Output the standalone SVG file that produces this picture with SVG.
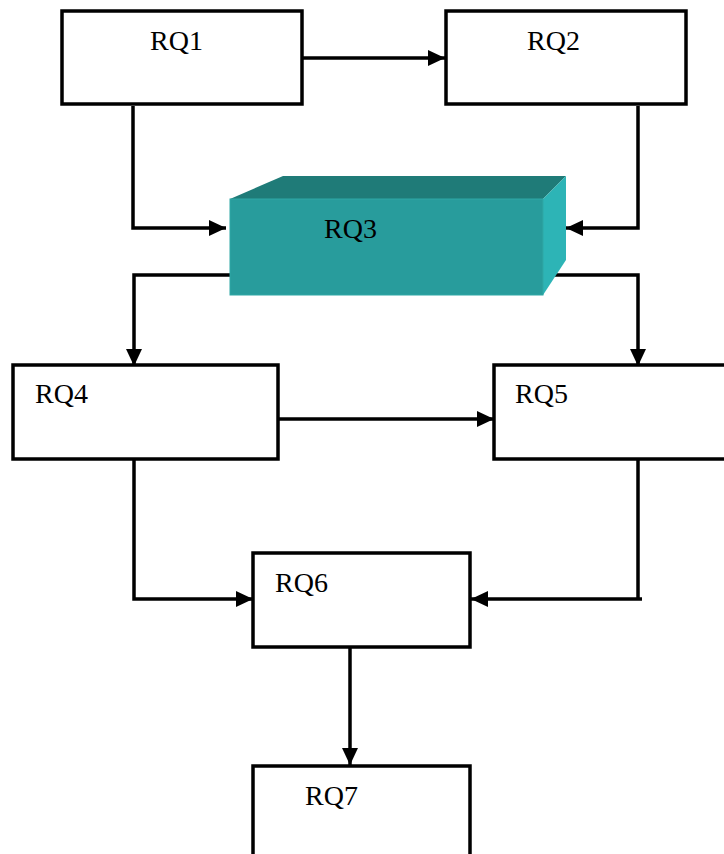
<svg xmlns="http://www.w3.org/2000/svg" width="724" height="854" viewBox="0 0 724 854">
<style>
.box{fill:#fff;stroke:#000;stroke-width:3.5}
.lbl{font-family:"Liberation Serif","Times New Roman",serif;font-size:28px;fill:#000}
.conn{fill:none;stroke:#000;stroke-width:3.5;stroke-linejoin:miter}
</style>
<defs>
<marker id="ah" markerUnits="userSpaceOnUse" markerWidth="17" markerHeight="16" viewBox="0 0 17 16" refX="17" refY="8" orient="auto">
<path d="M0,0 L17,8 L0,16 Z" fill="#000"/>
</marker>
</defs>
<rect width="724" height="854" fill="#fff"/>
<g id="connectors">
<path class="conn" d="M303,58 H445" marker-end="url(#ah)"/>
<path class="conn" d="M133,106 V228 H226" marker-end="url(#ah)"/>
<path class="conn" d="M638,106 V228 H566" marker-end="url(#ah)"/>
<path class="conn" d="M230,275 H134 V366" marker-end="url(#ah)"/>
<path class="conn" d="M543,275 H638 V366" marker-end="url(#ah)"/>
<path class="conn" d="M278,419 H494" marker-end="url(#ah)"/>
<path class="conn" d="M134,459 V599 H253" marker-end="url(#ah)"/>
<path class="conn" d="M642,599 H471" marker-end="url(#ah)"/>
<path class="conn" d="M638,459 V599"/>
<path class="conn" d="M350,647 V765" marker-end="url(#ah)"/>
</g>
<g id="RQ1">
<rect class="box" x="62" y="11" width="240" height="93"/>
<text class="lbl" x="150" y="50">RQ1</text>
</g>
<g id="RQ2">
<rect class="box" x="446" y="11" width="240" height="93"/>
<text class="lbl" x="527" y="50">RQ2</text>
</g>
<g id="RQ3">
<polygon points="230,199 283,176 566,176 543,199" fill="#1f7b78"/>
<polygon points="543,199 566,176 566,260 543,295" fill="#2db4b6"/>
<rect x="230" y="199" width="313" height="96" fill="#289c9c" stroke="#2fa8a6" stroke-width="1"/>
<text class="lbl" x="324" y="238">RQ3</text>
</g>
<g id="RQ4">
<rect class="box" x="13" y="365" width="265" height="94"/>
<text class="lbl" x="35" y="403">RQ4</text>
</g>
<g id="RQ5">
<rect class="box" x="494" y="365" width="240" height="94"/>
<text class="lbl" x="515" y="403">RQ5</text>
</g>
<g id="RQ6">
<rect class="box" x="253" y="553" width="217" height="94"/>
<text class="lbl" x="275" y="592">RQ6</text>
</g>
<g id="RQ7">
<rect class="box" x="253" y="766" width="217" height="100"/>
<text class="lbl" x="305" y="805">RQ7</text>
</g>
</svg>
